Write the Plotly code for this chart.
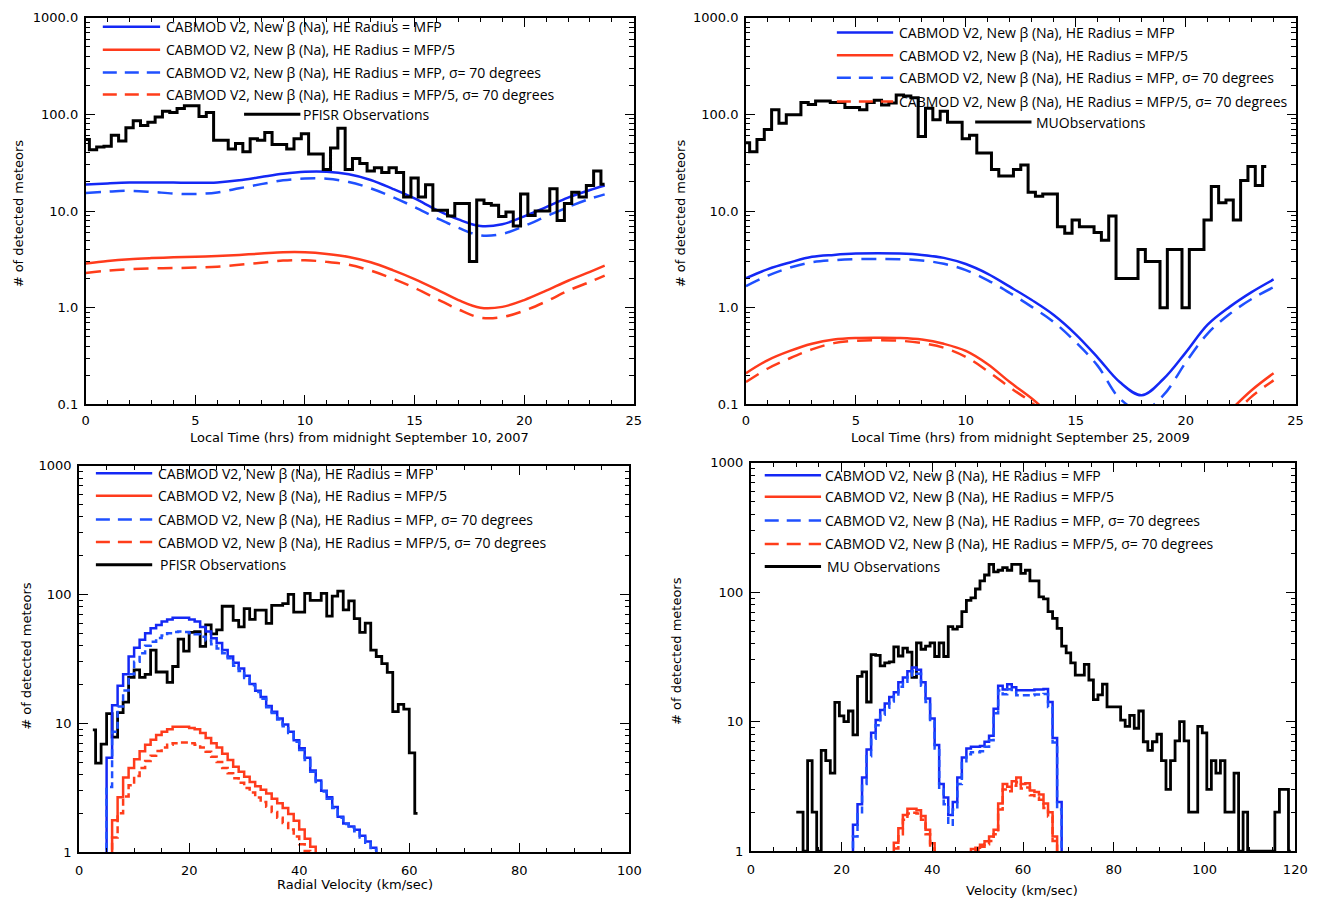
import plotly.graph_objects as go

W, H = 1330, 909

# ------------------------------------------------------------------ data
# Top-left: PFISR, local time, 20-minute bins (k/3 hours)
TL_OBS = [55, 43, 46, 47, 61, 53, 73, 86, 77, 83, 94, 108, 105, 115, 123, 123, 95, 105,
          54, 54, 44, 50, 41, 56, 54, 65, 49, 49, 44, 56, 63, 39, 39, 27, 45, 72,
          27, 35, 31, 26, 28, 25, 28, 25, 14, 22, 14, 18.7, 10.2, 10.2, 8.9, 12,
          12, 3, 13, 12, 11.5, 8.8, 9.8, 7, 15, 9, 10, 10, 17, 8, 12, 15.7, 14, 18.4, 26, 19]
TL_OBS_T = [k / 3 for k in range(len(TL_OBS))]

TL_MODEL_T = [0, 1, 2, 3, 4, 5, 6, 7, 8, 9, 10, 11, 12, 13, 14, 15, 16, 17, 18, 19, 20, 21, 22, 23, 23.67]
TL_BLUE = [18.8, 19.3, 19.7, 19.8, 19.7, 19.6, 19.8, 20.8, 22.5, 24.3, 25.5, 25.5, 24, 21, 17,
           13.5, 10.3, 8.2, 7.0, 7.3, 8.8, 11, 13.8, 16.5, 18.4]
TL_BLUE_S = [15.4, 15.9, 16.2, 15.8, 15.2, 15.0, 15.6, 17.2, 19.0, 20.8, 21.7, 21.6, 20.0, 17.2, 14,
             11, 8.5, 6.7, 5.6, 5.8, 7.0, 8.8, 11, 13.4, 14.9]
TL_RED = [2.87, 3.05, 3.18, 3.26, 3.32, 3.37, 3.43, 3.52, 3.63, 3.75, 3.75, 3.6, 3.35, 2.95, 2.45,
          1.98, 1.55, 1.2, 1.0, 1.02, 1.2, 1.5, 1.9, 2.35, 2.72]
TL_RED_S = [2.29, 2.42, 2.5, 2.55, 2.57, 2.6, 2.66, 2.78, 2.92, 3.08, 3.1, 2.98, 2.78, 2.42, 2.0,
            1.6, 1.24, 0.96, 0.79, 0.8, 0.93, 1.16, 1.5, 1.85, 2.15]

# Top-right: MU radar, local time, 20-minute bins
TR_OBS = [51, 41, 55, 70, 112, 81, 99, 99, 133, 127, 138, 138, 133, 133, 118, 118, 112, 133,
          140, 125, 131, 159, 155, 149, 59, 116, 88, 108, 83, 83, 56, 61, 40, 40, 27, 23,
          23, 27, 30, 15.7, 14.2, 15, 15, 6.9, 5.9, 8.1, 6.9, 6.9, 6.0, 5.0, 8.9, 2,
          2, 2, 4, 3, 3, 1, 4, 4, 1, 4, 4, 8.1, 18, 12.2, 13, 8.1, 20.7, 29, 18.4, 29]
TR_OBS_T = [k / 3 for k in range(len(TR_OBS))]

TR_MODEL_T = list(range(25))
TR_BLUE = [2.02, 2.51, 2.94, 3.36, 3.52, 3.63, 3.66, 3.63, 3.52, 3.28, 2.83, 2.24, 1.65, 1.2,
           0.84, 0.53, 0.305, 0.17, 0.124, 0.184, 0.343, 0.667, 1.02, 1.45, 1.96]
TR_BLUE_S = [1.67, 2.15, 2.6, 2.95, 3.1, 3.18, 3.2, 3.18, 3.08, 2.85, 2.45, 1.92, 1.42, 1.02,
             0.71, 0.44, 0.25, 0.115, 0.085, 0.125, 0.27, 0.54, 0.86, 1.23, 1.63]
TR_RED = [0.21, 0.287, 0.357, 0.423, 0.469, 0.487, 0.49, 0.487, 0.469, 0.423, 0.357, 0.26, 0.17,
          0.115, 0.072, None, None, None, None, None, None, None, 0.085, 0.14, 0.21]
TR_RED_S = [0.17, 0.235, 0.3, 0.37, 0.43, 0.455, 0.46, 0.455, 0.43, 0.385, 0.31, 0.22, 0.15,
            0.104, 0.065, None, None, None, None, None, None, None, 0.07, 0.12, 0.177]

# Bottom-left: PFISR radial velocity, 1 km/s bins
BL_OBS_V = [2.5 + i for i in range(60)]
BL_OBS = [8.9, 4.9, 6.9, 11.9, 7.8, 12.1, 14.6, 22.7, 26, 22.7, 24, 37, 25, 25, 20.8, 27.6,
          45, 36.3, 50.7, 51.5, 39.6, 58, 49.5, 53, 81, 81, 63, 56, 77.6, 64, 75.5, 75.5,
          59.7, 82.4, 82.4, 85, 100, 73, 73, 102, 90, 90, 102, 68, 97, 106, 76, 89, 65,
          50.7, 60, 37, 33, 29, 24.8, 12.3, 14, 12.9, 5.9, 2]
BL_BLUE_V = [4.5 + i for i in range(51)]
BL_BLUE = [0.5, 5.4, 13.8, 19.6, 24, 33, 38.5, 44.6, 50, 54.6, 58, 61.6, 64, 66, 66, 66, 64,
           61.6, 56, 51.5, 45.7, 42, 37, 33, 29.5, 26.6, 23.4, 20.2, 17.9, 16, 13.6, 12.3,
           10.9, 9.8, 8.6, 7.4, 6.4, 5.4, 4.3, 3.6, 3.0, 2.67, 2.24, 1.88, 1.67, 1.58, 1.49,
           1.34, 1.21, 1.08, 0.5]
BL_BLUE_S = [0.5, 3.2, 8.6, 13.5, 18, 24, 30, 35, 40, 43, 46, 48, 50, 51, 51.5, 51, 50, 49, 47,
             44, 41, 38, 35, 32, 28, 25.5, 22.5, 19.7, 17.5, 15.5, 13.3, 12, 10.7, 9.5, 8.4,
             7.2, 6.2, 5.2, 4.2, 3.5, 2.95, 2.6, 2.2, 1.85, 1.65, 1.55, 1.45, 1.3, 1.18, 1.05, 0.5]
BL_RED_V = [5.5 + i for i in range(39)]
BL_RED = [0.5, 1.77, 2.67, 3.8, 4.5, 5.25, 6.07, 6.8, 7.45, 8.1, 8.6, 9.0, 9.4, 9.4, 9.4, 9.2,
          9.0, 8.4, 7.7, 7.0, 6.5, 5.8, 5.2, 4.6, 4.2, 3.85, 3.5, 3.25, 3.05, 2.85, 2.6, 2.4,
          2.2, 1.98, 1.75, 1.5, 1.27, 1.1, 0.5]
BL_RED_S = [0.5, 1.3, 2.0, 2.7, 3.3, 3.9, 4.5, 5.1, 5.6, 6.1, 6.5, 6.8, 7.0, 7.1, 7.1, 7.0, 6.8,
            6.5, 6.0, 5.5, 5.0, 4.5, 4.1, 3.75, 3.45, 3.15, 2.9, 2.65, 2.45, 2.25, 2.05, 1.85,
            1.68, 1.5, 1.32, 1.15, 1.02, 0.5, 0.5]

# Bottom-right: MU velocity, 1 km/s bins
BR_OBS_V = list(range(10, 120))
BR_OBS = [2, 2, 1, 5, 2, 1, 6, 5, 4, 14.1, 11.1, 10, 12.1, 7.9, 22.4, 24.3, 14.2, 33, 32.5, 27,
          28.5, 29, 37.9, 32.2, 37, 34.5, 22, 40.6, 36.3, 38.3, 40.6, 31.9, 40.6, 31.9, 54.3,
          52, 54.3, 70.9, 86.6, 90.6, 106, 122.6, 136, 164, 144, 148, 155, 148, 164, 164,
          140, 148, 122.6, 122.6, 92, 89, 70.9, 62.9, 52.7, 38.3, 34, 28.5, 22.9, 22.9, 27.7,
          21, 14.8, 16.1, 19.5, 13, 13, 13, 10.3, 9.2, 11.2, 8.9, 12.1, 7.0, 6.0, 7.0, 8.0,
          5.0, 3.0, 5.0, 7.1, 10, 7.1, 2, 2, 9.2, 8.2, 3.0, 5.0, 4.0, 5.0, 2, 2, 4, 1, 2, 1,
          1, 1, 1, 1, 1, 2, 3, 3, 1]
BR_BLUE_V = list(range(22, 70))
BR_BLUE = [0.5, 1.6, 2.3, 3.7, 6.1, 8.2, 10.3, 12.3, 13.8, 15.5, 16.9, 20.2, 22.0, 24.5, 26.2,
           25.2, 20.2, 15.1, 10.6, 6.6, 3.3, 2.6, 1.9, 2.4, 3.7, 5.3, 6.2, 6.4, 6.4, 6.5, 7.0,
           7.8, 12.6, 19, 17.7, 19.5, 18.5, 17.5, 17.5, 17.5, 17.5, 17.7, 17.7, 17.9, 14.2,
           7.5, 2.4, 0.5]
BR_BLUE_S = [0.5, 1.3, 2.0, 3.3, 5.4, 7.4, 9.4, 11.3, 12.8, 14.3, 15.7, 18.6, 20.4, 22.8, 24.5,
             23.5, 19, 14.2, 10, 6.2, 3.0, 2.3, 1.6, 2.1, 3.3, 4.8, 5.6, 5.8, 5.8, 5.9, 6.4,
             7.2, 11.6, 17.4, 16.3, 17.8, 16.9, 16, 16, 16, 16, 16.2, 16.2, 16.4, 13, 6.9, 2.1, 0.5]
BR_RED_V = list(range(31, 69))
BR_RED = [0.5, 1.16, 1.5, 1.9, 2.13, 2.13, 2.07, 1.87, 1.46, 1.15, 0.5,
          None, None, None, None, None, None,
          0.5, 1.04, 1.06, 1.12, 1.19, 1.3, 1.46, 2.33, 3.3, 3.15, 3.46, 3.71, 3.3, 3.35,
          2.94, 2.86, 2.74, 2.33, 2.0, 1.3, 0.5]
BR_RED_S = [0.5, 1.05, 1.35, 1.75, 1.95, 1.98, 1.95, 1.75, 1.35, 1.05, 0.5,
            None, None, None, None, None, None,
            0.5, 0.5, 1.02, 1.08, 1.13, 1.2, 1.35, 2.1, 3.0, 2.9, 3.2, 3.4, 3.05, 3.1, 2.7,
            2.6, 2.5, 2.15, 1.85, 1.2, 0.5]

LEG_MODEL = [
    "CABMOD V2, New \u03b2 (Na), HE Radius = MFP",
    "CABMOD V2, New \u03b2 (Na), HE Radius = MFP/5",
    "CABMOD V2, New \u03b2 (Na), HE Radius = MFP, \u03c3= 70 degrees",
    "CABMOD V2, New \u03b2 (Na), HE Radius = MFP/5, \u03c3= 70 degrees",
]

# ------------------------------------------------------------------ styles
BLUE = "#1428f5"
BLUE_D = "#1f50ff"
RED = "#ff3b1c"
RED_D = "#ff3d1a"
BLACK = "#000000"
TOP_DASH = "15px,9px"
BOT_DASH = "7px,4px"
LEG_DASH = "14px,8px"

fig = go.Figure()


def add(x, y, color, ax, shape, dash=None, width=2.5):
    fig.add_trace(go.Scatter(
        x=x, y=y, mode="lines", xaxis="x" + ax, yaxis="y" + ax,
        line=dict(color=color, width=width, shape=shape, dash=dash,
                  smoothing=1.0 if shape == "spline" else None),
        showlegend=False, hoverinfo="skip"))


# top-left
add(TL_MODEL_T, TL_BLUE, BLUE, "", "spline")
add(TL_MODEL_T, TL_RED, RED, "", "spline")
add(TL_MODEL_T, TL_BLUE_S, BLUE_D, "", "spline", TOP_DASH)
add(TL_MODEL_T, TL_RED_S, RED_D, "", "spline", TOP_DASH)
add(TL_OBS_T, TL_OBS, BLACK, "", "hvh", width=3)
# top-right
add(TR_MODEL_T, TR_BLUE, BLUE, "2", "spline")
add(TR_MODEL_T, TR_RED, RED, "2", "spline")
add(TR_MODEL_T, TR_BLUE_S, BLUE_D, "2", "spline", TOP_DASH)
add(TR_MODEL_T, TR_RED_S, RED_D, "2", "spline", TOP_DASH)
add(TR_OBS_T, TR_OBS, BLACK, "2", "hvh", width=3)
# bottom-left
add(BL_OBS_V, BL_OBS, BLACK, "3", "hvh", width=2.8)
add(BL_BLUE_V, BL_BLUE, BLUE, "3", "hvh")
add(BL_RED_V, BL_RED, RED, "3", "hvh")
add(BL_BLUE_V, BL_BLUE_S, BLUE_D, "3", "hvh", BOT_DASH)
add(BL_RED_V, BL_RED_S, RED_D, "3", "hvh", BOT_DASH)
# bottom-right
add(BR_OBS_V, BR_OBS, BLACK, "4", "hvh", width=2.8)
add(BR_BLUE_V, BR_BLUE, BLUE, "4", "hvh")
add(BR_RED_V, BR_RED, RED, "4", "hvh")
add(BR_BLUE_V, BR_BLUE_S, BLUE_D, "4", "hvh", BOT_DASH)
add(BR_RED_V, BR_RED_S, RED_D, "4", "hvh", BOT_DASH)


def dx(a, b):
    return [a / W, b / W]


def dy(top, bottom):
    return [1 - bottom / H, 1 - top / H]


TICKFONT = dict(family="DejaVu Sans", size=13, color="black")
AXCOMMON = dict(showline=True, linecolor="black", linewidth=1.8, mirror="allticks",
                ticks="inside", ticklen=9, tickwidth=1.4, tickcolor="black",
                showgrid=False, zeroline=False, tickfont=TICKFONT)


def xaxis(domain, rng, dtick, minor_dtick, anchor, standoff):
    return dict(AXCOMMON, domain=domain, range=rng, tickmode="linear", tick0=0, dtick=dtick,
                minor=dict(ticks="inside", ticklen=4.5, tickwidth=1.2, tickcolor="black",
                           dtick=minor_dtick, tick0=0, showgrid=False),
                anchor=anchor, ticklabelstandoff=standoff)


def yaxis(domain, rng, vals, texts, minors, anchor):
    return dict(AXCOMMON, type="log", domain=domain, range=rng, tickmode="array",
                tickvals=vals, ticktext=texts,
                minor=dict(ticks="inside", ticklen=4.5, tickwidth=1.2, tickcolor="black",
                           tickmode="array", tickvals=minors, showgrid=False),
                anchor=anchor, ticklabelstandoff=3)


MIN_TOP = [m * d for d in (0.1, 1, 10, 100) for m in range(2, 10)]
MIN_BOT = [m * d for d in (1, 10, 100) for m in range(2, 10)]

fig.update_layout(
    width=W, height=H, margin=dict(l=0, r=0, t=0, b=0), autosize=False,
    paper_bgcolor="white", plot_bgcolor="white",
    xaxis=xaxis(dx(82.7, 637.5), [0, 25], 5, 1, "y", 3),
    yaxis=yaxis(dy(11, 404), [-1, 3], [0.1, 1, 10, 100, 1000],
                ["0.1", "1.0", "10.0", "100.0", "1000.0"], MIN_TOP, "x"),
    xaxis2=xaxis(dx(751, 1307.3), [0, 25], 5, 1, "y2", 3),
    yaxis2=yaxis(dy(11, 404), [-1, 3], [0.1, 1, 10, 100, 1000],
                 ["0.1", "1.0", "10.0", "100.0", "1000.0"], MIN_TOP, "x2"),
    xaxis3=xaxis(dx(76, 633), [0, 100], 20, 5, "y3", 5),
    yaxis3=yaxis(dy(466.3, 859.3), [0, 3], [1, 10, 100, 1000],
                 ["1", "10", "100", "1000"], MIN_BOT, "x3"),
    xaxis4=xaxis(dx(756, 1307), [0, 120], 20, 5, "y4", 5),
    yaxis4=yaxis(dy(463.5, 858.3), [0, 3], [1, 10, 100, 1000],
                 ["1", "10", "100", "1000"], MIN_BOT, "x4"),
)

# ------------------------------------------------------------------ legends & titles
shapes = []
annotations = []
LEGFONT = dict(family="Open Sans", size=14, color="black")
TITLEFONT = dict(family="DejaVu Sans", size=13, color="black")


def leg_line(x0, x1, y, color, dash=None, width=2.5):
    shapes.append(dict(type="line", xref="paper", yref="paper",
                       x0=x0 / W, x1=x1 / W, y0=1 - y / H, y1=1 - y / H,
                       line=dict(color=color, width=width, dash=dash)))


def leg_text(x, y, text):
    annotations.append(dict(xref="paper", yref="paper", x=x / W, y=1 - y / H, text=text,
                            showarrow=False, xanchor="left", yanchor="middle", font=LEGFONT))


def legend(lx0, lx1, tx, rows, obs_line, obs_tx, obs_label):
    styles = [(BLUE, None), (RED, None), (BLUE_D, LEG_DASH), (RED_D, LEG_DASH)]
    for i, (c, d) in enumerate(styles):
        leg_line(lx0, lx1, rows[i], c, d)
        leg_text(tx, rows[i], LEG_MODEL[i])
    leg_line(obs_line[0], obs_line[1], rows[4], BLACK, None, 3)
    leg_text(obs_tx, rows[4], obs_label)


legend(100, 158, 162, [20, 43.5, 66.5, 89, 109], (243, 300), 301, "PFISR Observations")
legend(843, 900, 904, [26, 49, 72, 96, 117], (983, 1040), 1043, "MUObservations")
legend(93, 150, 154, [474, 497, 521, 544, 567], (93, 150), 156, "PFISR Observations")
legend(770, 827, 829, [476, 498, 522, 546, 569], (770, 827), 831, "MU Observations")


def title(x, y, text, angle=0):
    annotations.append(dict(xref="paper", yref="paper", x=x / W, y=1 - y / H, text=text,
                            showarrow=False, xanchor="center", yanchor="middle",
                            textangle=angle, font=TITLEFONT))


title(360, 438, "Local Time (hrs) from midnight September 10, 2007")
title(1029, 438, "Local Time (hrs) from midnight September 25, 2009")
title(355, 892, "Radial Velocity (km/sec)")
title(1030, 898, "Velocity (km/sec)")
title(15, 210, "# of detected meteors", -90)
title(685, 210, "# of detected meteors", -90)
title(22, 660, "# of detected meteors", -90)
title(680, 655, "# of detected meteors", -90)

fig.update_layout(shapes=shapes, annotations=annotations)

RESET = ("document.documentElement.style.margin='0';"
         "document.documentElement.style.padding='0';"
         "document.documentElement.style.overflow='hidden';"
         "document.body.style.margin='0';"
         "document.body.style.padding='0';"
         "document.body.style.overflow='hidden';")

fig.write_html("out.html", config={"displayModeBar": False}, post_script=RESET)
